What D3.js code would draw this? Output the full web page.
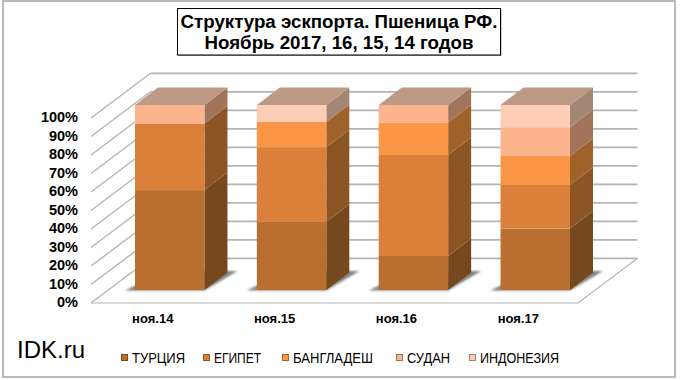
<!DOCTYPE html>
<html>
<head>
<meta charset="utf-8">
<script src="https://cdn.jsdelivr.net/npm/d3@7"></script>
<style>
  html, body { margin: 0; padding: 0; background: #fff; }
  text { font-family: "Liberation Sans", Arial, sans-serif; fill: #000; }
</style>
</head>
<body>
<div id="chart"></div>
<script>
// --- DATA ---
const months = ["ноя.14", "ноя.15", "ноя.16", "ноя.17"];
const seriesNames = ["ТУРЦИЯ", "ЕГИПЕТ", "БАНГЛАДЕШ", "СУДАН", "ИНДОНЕЗИЯ"];
const turkey     = [54.0, 36.9, 18.4, 33.2];
const egypt      = [36.0, 40.2, 54.6, 23.6];
const bangladesh = [0, 13.7, 17.5, 15.6];
const sudan      = [10.0, 0, 9.5, 15.6];
const indonesia  = [0, 9.2, 0, 12.0];
const yTicks = [0, 10, 20, 30, 40, 50, 60, 70, 80, 90, 100];
const titleLines = ["Структура эскпорта. Пшеница РФ.", "Ноябрь 2017, 16, 15, 14 годов"];

// --- STYLE ---
const frontColors = ["#b96f30", "#da803b", "#fb9646", "#fdb48c", "#fecdb6"];
const sideColors  = ["#76481d", "#8c5526", "#9f622b", "#a2745a", "#a28775"];
const topColor = "#bd9a85";
const gridColor = "#b4b4b4";

// --- LAYOUT ---
const width = 680, height = 380;
const barDepth = { dx: 23, dy: -17.5 };
const wallDepth = { dx: 59.5, dy: -44.7 };
const legendX = [132, 214, 293, 407, 480];
const legendW = [53, 47, 80, 43, 79];

const svg = d3.select("#chart").append("svg")
    .attr("width", width)
    .attr("height", height)
    .style("display", "block");

const defs = svg.append("defs");
defs.append("filter").attr("id", "blur")
    .attr("x", "-30%").attr("y", "-60%").attr("width", "160%").attr("height", "220%")
    .append("feGaussianBlur").attr("stdDeviation", 1.1);

// frame
svg.append("rect")
    .attr("x", 3).attr("y", 1)
    .attr("width", 672).attr("height", 376)
    .attr("fill", "#fff")
    .attr("stroke", "#b9b9b9").attr("stroke-width", 2);

// --- SCALES ---
const x = d3.scaleBand().domain(months).range([135, 570]).paddingInner(0.43).paddingOuter(0);
const yBar = d3.scaleLinear().domain([0, 100]).range([290, 105]);
const yWall = d3.scaleLinear().domain([0, 100]).range([303, 118]);

// --- WALLS ---
const wallLeft = 91, wallRight = 578;
const grid = svg.append("g")
    .attr("stroke", gridColor).attr("stroke-width", 1.4).attr("fill", "none");

// side-wall ticks going back, then back-wall lines
grid.selectAll(".side").data(yTicks).join("line")
    .attr("x1", wallLeft).attr("y1", d => yWall(d))
    .attr("x2", wallLeft + wallDepth.dx).attr("y2", d => yWall(d) + wallDepth.dy);
grid.selectAll(".back").data(yTicks).join("line")
    .attr("x1", wallLeft + wallDepth.dx).attr("y1", d => yWall(d) + wallDepth.dy)
    .attr("x2", wallRight + wallDepth.dx).attr("y2", d => yWall(d) + wallDepth.dy)
    .attr("stroke-width", 1.8);

// floor
grid.append("path")
    .attr("stroke-width", 1.2)
    .attr("d", d3.line()([
        [wallLeft, yWall(0)],
        [wallRight, yWall(0)],
        [wallRight + wallDepth.dx, yWall(0) + wallDepth.dy]
    ]));

// --- BARS ---
const rows = months.map((m, i) => ({
    month: m,
    [seriesNames[0]]: turkey[i],
    [seriesNames[1]]: egypt[i],
    [seriesNames[2]]: bangladesh[i],
    [seriesNames[3]]: sudan[i],
    [seriesNames[4]]: indonesia[i]
}));
const stacked = d3.stack().keys(seriesNames)(rows);

// floor shadow behind each bar
svg.append("g").selectAll("polygon").data(months).join("polygon")
    .attr("fill", "#808080")
    .attr("filter", "url(#blur)")
    .attr("points", m => {
        const x0 = x(m), x1 = x0 + x.bandwidth(), y0 = yBar(0);
        return [[x0 - 10, y0 + 0.5], [x1, y0 + 0.5], [x1 + 33, y0 - 19], [x0 + 30, y0 - 19]].join(" ");
    });

const barW = x.bandwidth();
const bars = svg.append("g").selectAll("g").data(stacked).join("g");

// side faces
bars.selectAll(".side").data((s, i) => s.map(d => ({ d, i }))).join("polygon")
    .attr("class", "side")
    .attr("fill", v => sideColors[v.i])
    .attr("points", v => {
        const xr = x(v.d.data.month) + barW;
        const a = yBar(v.d[0]), b = yBar(v.d[1]);
        return [[xr, a], [xr + barDepth.dx, a + barDepth.dy], [xr + barDepth.dx, b + barDepth.dy], [xr, b]].join(" ");
    });

// front faces
bars.selectAll(".front").data((s, i) => s.map(d => ({ d, i }))).join("rect")
    .attr("class", "front")
    .attr("fill", v => frontColors[v.i])
    .attr("x", v => x(v.d.data.month))
    .attr("width", barW)
    .attr("y", v => yBar(v.d[1]))
    .attr("height", v => yBar(v.d[0]) - yBar(v.d[1]));

// top faces
svg.append("g").selectAll("polygon").data(months).join("polygon")
    .attr("fill", topColor)
    .attr("points", m => {
        const x0 = x(m), t = yBar(100);
        return [[x0, t], [x0 + barW, t], [x0 + barW + barDepth.dx, t + barDepth.dy], [x0 + barDepth.dx, t + barDepth.dy]].join(" ");
    });

// --- AXIS LABELS ---
svg.append("g").selectAll("text").data(yTicks).join("text")
    .attr("x", 78)
    .attr("y", d => yWall(d) + 4)
    .attr("text-anchor", "end")
    .attr("font-size", 14.5)
    .attr("font-weight", "bold")
    .text(d => d + "%");

svg.append("g").selectAll("text").data(months).join("text")
    .attr("x", d => x(d) + barW / 2 - 17)
    .attr("y", 323)
    .attr("text-anchor", "middle")
    .attr("font-size", 13)
    .attr("font-weight", "bold")
    .text(d => d);

// --- TITLE ---
svg.append("rect")
    .attr("x", 178.5).attr("y", 9.5)
    .attr("width", 323).attr("height", 46.5)
    .attr("fill", "#9a9a9a");
svg.append("rect")
    .attr("x", 177.5).attr("y", 8.5)
    .attr("width", 323).attr("height", 46.5)
    .attr("fill", "#fff")
    .attr("stroke", "#000");
svg.append("g").selectAll("text").data(titleLines).join("text")
    .attr("x", 339)
    .attr("y", (d, i) => 28 + i * 21)
    .attr("text-anchor", "middle")
    .attr("font-size", 18.7)
    .attr("font-weight", "bold")
    .text(d => d);

// --- WATERMARK ---
svg.append("text")
    .attr("x", 17).attr("y", 358)
    .attr("font-size", 24)
    .text("IDK.ru");

// --- LEGEND ---
const legend = svg.append("g").selectAll("g").data(seriesNames).join("g");
legend.append("rect")
    .attr("x", (d, i) => legendX[i] - 10.5).attr("y", 354.5)
    .attr("width", 6).attr("height", 6)
    .attr("fill", (d, i) => frontColors[i])
    .attr("stroke", (d, i) => sideColors[i]).attr("stroke-width", 1);
legend.append("text")
    .attr("x", (d, i) => legendX[i])
    .attr("y", 363)
    .attr("font-size", 14)
    .attr("textLength", (d, i) => legendW[i])
    .attr("lengthAdjust", "spacingAndGlyphs")
    .text(d => d);
</script>
</body>
</html>
